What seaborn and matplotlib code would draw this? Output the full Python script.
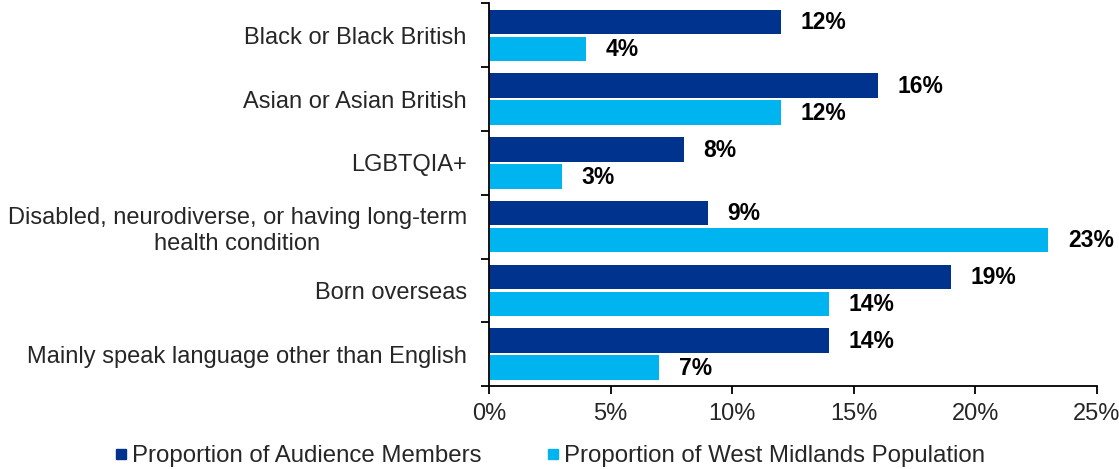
import matplotlib
matplotlib.use("Agg")
import matplotlib.pyplot as plt
from matplotlib.ticker import FixedLocator, PercentFormatter
import seaborn as sns
import pandas as pd

categories = [
    "Black or Black British",
    "Asian or Asian British",
    "LGBTQIA+",
    "Disabled, neurodiverse, or having long-term\nhealth condition",
    "Born overseas",
    "Mainly speak language other than English",
]
audience = [12, 16, 8, 9, 19, 14]
population = [4, 12, 3, 23, 14, 7]
series_names = ["Proportion of Audience Members", "Proportion of West Midlands Population"]
x_ticks = [0, 5, 10, 15, 20, 25]

NAVY = "#00338D"
CYAN = "#00B5EF"

df = pd.DataFrame({
    "category": categories * 2,
    "value": audience + population,
    "series": [series_names[0]] * len(categories) + [series_names[1]] * len(categories),
})

sns.set_style("white")
plt.rcParams["font.family"] = ["Liberation Sans", "DejaVu Sans"]

fig = plt.figure(figsize=(11.19, 4.69), dpi=100)
ax = fig.add_axes([489 / 1119, 1 - 386 / 469, (1097 - 489) / 1119, (386 - 3.5) / 469])

sns.barplot(
    data=df, y="category", x="value", hue="series", orient="h",
    palette=[NAVY, CYAN], width=0.85, gap=0.09, ax=ax, legend=False,
    saturation=1, linewidth=0,
)

# value labels at the end of each bar
for container in ax.containers:
    for patch in container:
        w = patch.get_width()
        ax.annotate(f"{w:.0f}%", (w, patch.get_y() + patch.get_height() / 2),
                    xytext=(14, -0.5), textcoords="offset points",
                    ha="left", va="center", fontsize=16.5, fontweight="bold", color="black")

ax.set_xlim(0, 25)
ax.set_ylim(len(categories) - 0.5, -0.5)
ax.set_xticks(x_ticks)
ax.xaxis.set_major_formatter(PercentFormatter(decimals=0))
ax.set_xlabel("")
ax.set_ylabel("")

for side in ["top", "right"]:
    ax.spines[side].set_visible(False)
for side in ["left", "bottom"]:
    ax.spines[side].set_color("black")
    ax.spines[side].set_linewidth(1.3)

ax.tick_params(axis="x", which="major", length=6, width=1.3, color="black",
               direction="out", labelsize=17, pad=6, bottom=True)
ax.tick_params(axis="y", which="major", length=0, labelsize=17, pad=16)
ax.yaxis.set_minor_locator(FixedLocator([i - 0.5 for i in range(len(categories) + 1)]))
ax.tick_params(axis="y", which="minor", length=6, width=1.3, color="black", direction="out", left=True)
for lbl in ax.get_yticklabels():
    lbl.set_horizontalalignment("right")
    lbl.set_multialignment("center")

ax.legend(
    handles=[plt.Line2D([], [], marker="s", linestyle="", color=NAVY, markersize=7.5),
             plt.Line2D([], [], marker="s", linestyle="", color=CYAN, markersize=7.5)],
    labels=series_names, loc="center", bbox_to_anchor=(548 / 1119, 1 - 456 / 469),
    bbox_transform=fig.transFigure, ncol=2, frameon=False, fontsize=17.3,
    handletextpad=0.05, columnspacing=2.6, handlelength=0.8, borderpad=0,
)

fig.savefig("out.png", dpi=100)
